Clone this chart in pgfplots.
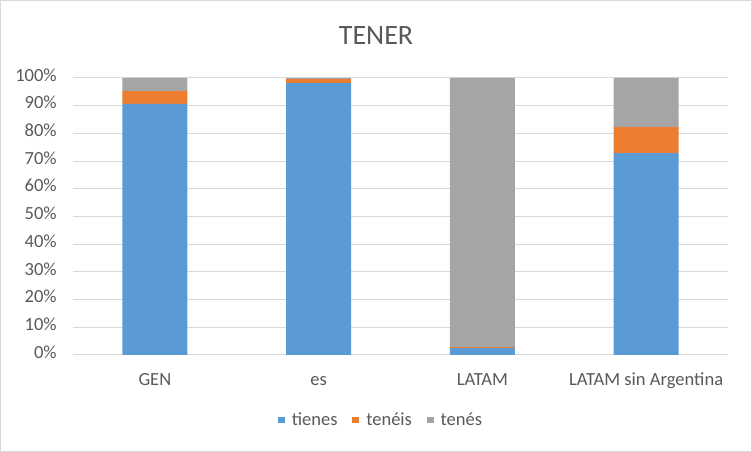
\documentclass[border=0pt]{standalone}
\usepackage{fontspec}
\setmainfont{Carlito}
\usepackage{pgfplots}
\pgfplotsset{compat=1.18}
\definecolor{cblue}{HTML}{5B9BD5}
\definecolor{corange}{HTML}{ED7D31}
\definecolor{cgray}{HTML}{A5A5A5}
\definecolor{textgray}{HTML}{595959}
\definecolor{gridgray}{HTML}{D9D9D9}
\begin{document}
\begin{tikzpicture}
\draw[draw=gridgray, line width=0.75pt] (0.375pt,0.375pt) rectangle (563.625pt,338.625pt);
\node[anchor=base, font=\fontsize{21}{25}\selectfont, text=textgray] at (282pt,305.25pt) {TENER};
\begin{axis}[
  at={(54.75pt,72.75pt)}, anchor=south west,
  scale only axis, width=491.25pt, height=207.75pt,
  ybar stacked, bar width=48.75pt,
  xmin=-0.5, xmax=3.5, ymin=0, ymax=100,
  xtick={0,1,2,3},
  xticklabels={GEN, es, LATAM, LATAM sin Argentina},
  ytick={0,10,...,100},
  yticklabel={\pgfmathprintnumber{\tick}\%},
  /pgf/number format/assume math mode=true,
  major tick length=0pt,
  axis line style={draw=none},
  ymajorgrids, grid style={draw=gridgray, line width=0.75pt},
  extra y ticks={0}, extra y tick labels={},
  extra y tick style={grid style={draw=gridgray, line width=0.75pt}},
  tick label style={font=\fontsize{13.9}{16}\selectfont, text=textgray},
  xticklabel style={anchor=base, yshift=-23.25pt, inner sep=0pt},
  yticklabel style={anchor=mid east, inner sep=0pt, xshift=-12pt},
  legend columns=3,
  legend style={at={(0.5,0)}, anchor=center, xshift=-15.4pt, yshift=-48.75pt,
    draw=none, fill=none, font=\fontsize{13.9}{16}\selectfont, text=textgray,
    nodes={inner sep=0pt},
    /tikz/every odd column/.append style={column sep=5.25pt},
    /tikz/every even column/.append style={column sep=11pt}},
  legend image code/.code={\fill[#1] (0pt,-2.6pt) rectangle (5.25pt,2.6pt);},
]
\addplot[fill=cblue, draw=none] coordinates {(0,90.7) (1,98.2) (2,2.5) (3,72.9)};
\addplot[fill=corange, draw=none] coordinates {(0,4.6) (1,1.4) (2,0.3) (3,9.4)};
\addplot[fill=cgray, draw=none] coordinates {(0,4.7) (1,0.4) (2,97.2) (3,17.7)};
\legend{tienes, tenéis, tenés}
\end{axis}
\end{tikzpicture}
\end{document}
